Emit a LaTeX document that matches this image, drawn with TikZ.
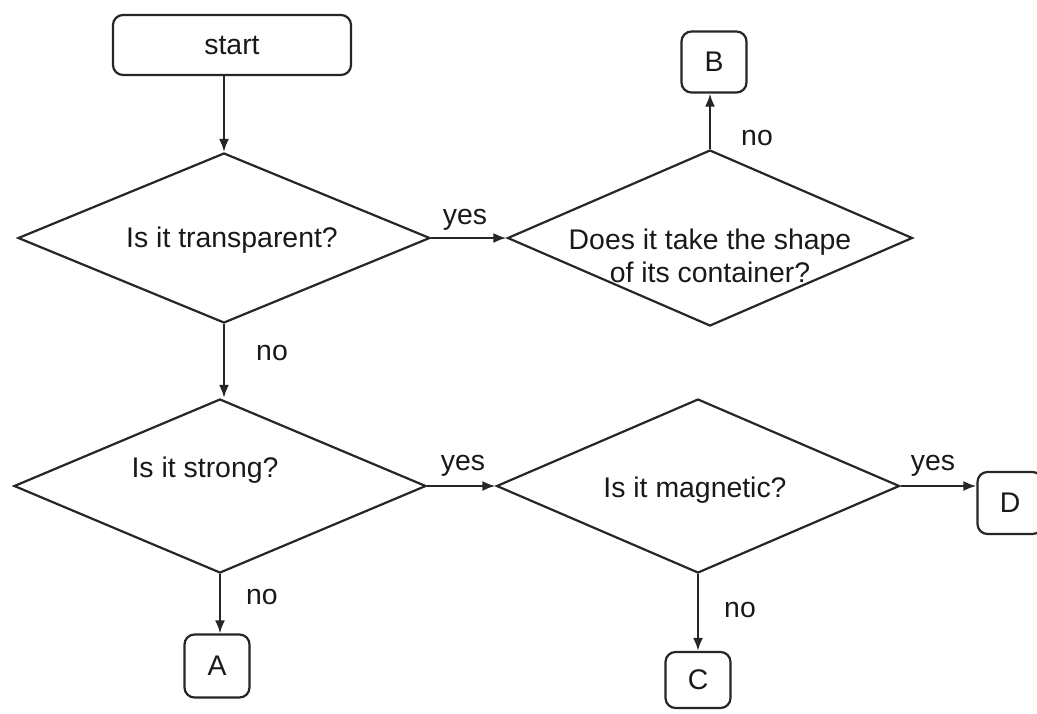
\documentclass[tikz,border=0pt]{standalone}
\usepackage{fontspec}
\setmainfont{Liberation Sans}
\usetikzlibrary{shapes.geometric,arrows.meta}
\begin{document}
\begin{tikzpicture}[x=0.5pt,y=-0.5pt,
  every node/.style={font=\fontsize{14.2}{16.5}\selectfont, text=black!90},
  line/.style={line width=1.1pt, draw=black!85},
  arrow/.style={line, -{Latex[length=6.5pt,width=5pt]}},
  term/.style={line, rounded corners=5pt, inner sep=0pt},
  decision/.style={line, diamond, inner sep=0pt},
  lbl/.style={inner sep=0pt}]
\useasboundingbox (0,0) rectangle (1037,713);

% terminals
\node[term, minimum width=119pt, minimum height=30pt] (start) at (232,45) {start};
\node[term, minimum width=32.5pt, minimum height=30.5pt] (B) at (714,62) {B};
\node[term, minimum width=32.5pt, minimum height=31.5pt] (A) at (217,666) {A};
\node[term, minimum width=32.5pt, minimum height=28pt] (C) at (698,680) {C};
\node[term, minimum width=32.5pt, minimum height=31pt] (D) at (1010,503) {D};

% decisions
\node[decision, minimum width=206pt, minimum height=85pt] (d1) at (224,238) {};
\node[decision, minimum width=202.5pt, minimum height=88pt] (d2) at (710,238) {};
\node[decision, minimum width=206pt, minimum height=87pt] (d3) at (220,486) {};
\node[decision, minimum width=201.5pt, minimum height=87pt] (d4) at (698,486) {};

% decision texts
\node (t1) at (232,240) {Is it transparent?};
\node[align=center] (t2) at (710,256) {Does it take the shape\\of its container?};
\node (t3) at (205,470) {Is it strong?};
\node (t4) at (695,490) {Is it magnetic?};

% connectors
\draw[arrow] (start.south -| d1.north) -- (d1.north);
\draw[arrow] (d1.east) -- (d2.west);
\draw[arrow] (d2.north) -- (d2.north |- B.south);
\draw[arrow] (d1.south) -- (d1.south |- d3.north);
\draw[arrow] (d3.east) -- (d4.west);
\draw[arrow] (d4.east) -- (d4.east -| D.west);
\draw[arrow] (d3.south) -- (d3.south |- A.north);
\draw[arrow] (d4.south) -- (C.north);

% branch labels
\node[lbl] (y1) at (465,220) {yes};
\node[lbl] (n1) at (757,138) {no};
\node[lbl] (n2) at (272,353) {no};
\node[lbl] (y2) at (463,466) {yes};
\node[lbl] (y3) at (933,466) {yes};
\node[lbl] (n3) at (262,597) {no};
\node[lbl] (n4) at (740,610) {no};
\end{tikzpicture}
\end{document}
